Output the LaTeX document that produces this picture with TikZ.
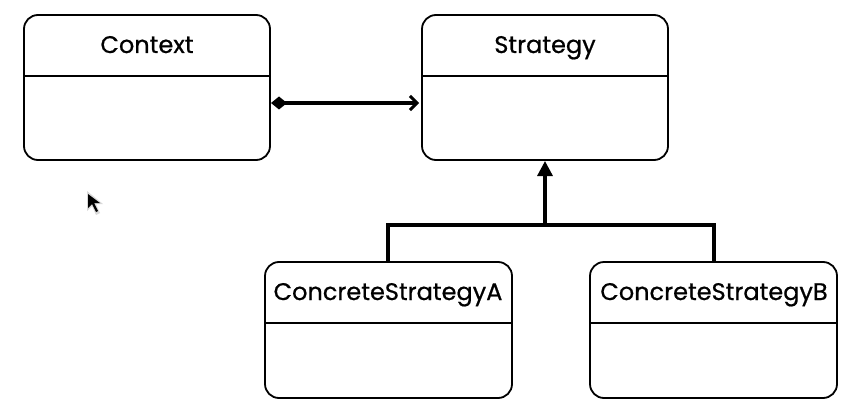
\documentclass[tikz,border=0pt]{standalone}
\usepackage{fontspec}
\setmainfont{Poppins}
\newfontfamily\lblfont{Poppins}[FakeBold=0.7]
\usetikzlibrary{arrows.meta}
\begin{document}
\begin{tikzpicture}[x=1pt,y=-1pt,
  classbox/.style={draw=black,line width=1.8pt,rounded corners=14pt},
  divider/.style={draw=black,line width=1.8pt},
  label/.style={font=\lblfont\fontsize{24}{28}\selectfont,anchor=base,inner sep=0pt},
  conn/.style={draw=black,line width=3.2pt}]
\useasboundingbox (0,0) rectangle (850,417);
\fill[white] (0,0) rectangle (850,417);
% Context
\draw[classbox] (24,15) rectangle (270,160);
\draw[divider] (24,76) -- (270,76);
\node[label] (ctx) at (147,53) {Context};
\coordinate (ctxR) at (271,103);
% Strategy
\draw[classbox] (422,15) rectangle (668,160);
\draw[divider] (422,76) -- (668,76);
\node[label] (str) at (545,53) {Strategy};
\coordinate (strL) at (419,103);
\coordinate (strB) at (545,161);
% Concrete A
\draw[classbox] (265,262) rectangle (512,398);
\draw[divider] (265,323) -- (512,323);
\node[label] (ca) at (388,300) {ConcreteStrategyA};
\coordinate (caT) at (388,261);
% Concrete B
\draw[classbox] (590,262) rectangle (837,398);
\draw[divider] (590,323) -- (837,323);
\node[label] (cb) at (714,300) {ConcreteStrategyB};
\coordinate (cbT) at (714,261);
% association with composition
\draw[conn,{Diamond[length=16pt,width=13pt,line width=0pt]}-{Straight Barb[length=7pt,width=14pt,line width=3pt]}] (ctxR) -- (strL);
% inheritance
\coordinate (j) at (545,225);
\draw[conn,-{Triangle[length=15pt,width=15pt]}] (j) -- (strB);
\draw[conn] (caT) -- (388,225) -- (714,225) -- (cbT);
% cursor
\fill[black!15] (87,191) -- (87,211) -- (92,206) -- (96,215) -- (100,213) -- (96,204) -- (103,204) -- cycle;
\fill[black] (88,194) -- (88,208) -- (92,204) -- (96,212) -- (98,211) -- (94,203) -- (100,203) -- cycle;
\end{tikzpicture}
\end{document}
